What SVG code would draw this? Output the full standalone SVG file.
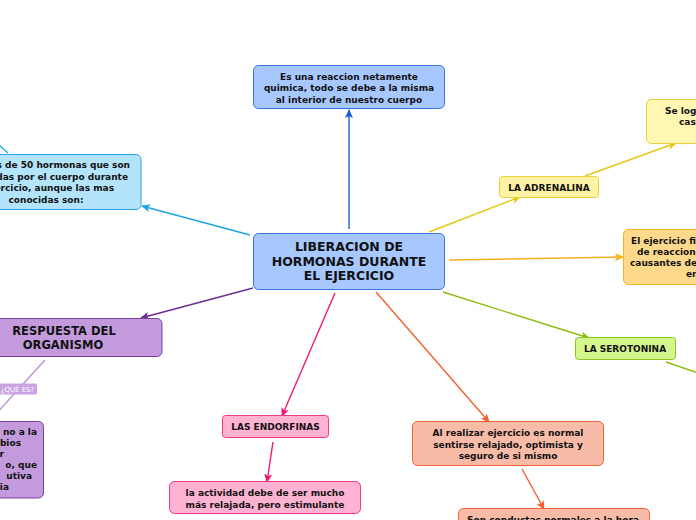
<svg xmlns="http://www.w3.org/2000/svg" width="696" height="520" viewBox="0 0 696 520">
<defs>
<style>
text{font-family:"DejaVu Sans","Verdana","Liberation Sans",sans-serif;font-weight:bold;fill:#111;font-size:9px;text-anchor:middle}
.big{font-size:12.5px}
.mid{font-size:11.5px}
.c{fill:none;stroke-width:1.4}
.blue{fill:#a7c7ff;stroke:#3676dc;stroke-width:1}
.cyan{fill:#b4e4fb;stroke:#2ba6e6;stroke-width:1}
.yel{fill:#fff4a6;stroke:#e6d03c;stroke-width:1}
.org{fill:#ffd98b;stroke:#f4b320;stroke-width:1}
.grn{fill:#d5f68d;stroke:#8cc424;stroke-width:1}
.pur{fill:#c39bdc;stroke:#7a3fa0;stroke-width:1}
.pnk{fill:#ffb2d2;stroke:#ee3a86;stroke-width:1}
.sal{fill:#f8bba8;stroke:#f26232;stroke-width:1}
</style>
<marker id="mBlue" markerUnits="userSpaceOnUse" markerWidth="10" markerHeight="10" refX="8" refY="5" orient="auto"><path d="M0,1 L9,5 L0,9 L2,5 z" fill="#1a5fd0"/></marker>
<marker id="mCyan" markerUnits="userSpaceOnUse" markerWidth="10" markerHeight="10" refX="8" refY="5" orient="auto"><path d="M0,1 L9,5 L0,9 L2,5 z" fill="#1fa3e3"/></marker>
<marker id="mYel" markerUnits="userSpaceOnUse" markerWidth="10" markerHeight="10" refX="8" refY="5" orient="auto"><path d="M0,1 L9,5 L0,9 L2,5 z" fill="#e6c812"/></marker>
<marker id="mOrg" markerUnits="userSpaceOnUse" markerWidth="10" markerHeight="10" refX="8" refY="5" orient="auto"><path d="M0,1 L9,5 L0,9 L2,5 z" fill="#f5b21a"/></marker>
<marker id="mGrn" markerUnits="userSpaceOnUse" markerWidth="10" markerHeight="10" refX="8" refY="5" orient="auto"><path d="M0,1 L9,5 L0,9 L2,5 z" fill="#8cbc12"/></marker>
<marker id="mPur" markerUnits="userSpaceOnUse" markerWidth="10" markerHeight="10" refX="8" refY="5" orient="auto"><path d="M0,1 L9,5 L0,9 L2,5 z" fill="#6b2d90"/></marker>
<marker id="mPnk" markerUnits="userSpaceOnUse" markerWidth="10" markerHeight="10" refX="8" refY="5" orient="auto"><path d="M0,1 L9,5 L0,9 L2,5 z" fill="#ee1a78"/></marker>
<marker id="mSal" markerUnits="userSpaceOnUse" markerWidth="10" markerHeight="10" refX="8" refY="5" orient="auto"><path d="M0,1 L9,5 L0,9 L2,5 z" fill="#f26130"/></marker>
</defs>
<rect width="696" height="520" fill="#ffffff"/>
<g id="connectors">
<line class="c" x1="349" y1="229" x2="349" y2="110" stroke="#1a5fd0" marker-end="url(#mBlue)"/>
<line class="c" x1="250" y1="235" x2="142" y2="206" stroke="#1fa3e3" marker-end="url(#mCyan)"/>
<line class="c" x1="8" y1="153" x2="-20" y2="128" stroke="#1fa3e3"/>
<line class="c" x1="429" y1="232" x2="520" y2="197" stroke="#e6c812" marker-end="url(#mYel)"/>
<line class="c" x1="585" y1="176" x2="676" y2="143" stroke="#e6c812" marker-end="url(#mYel)"/>
<line class="c" x1="449" y1="260" x2="623" y2="257" stroke="#f5b21a" marker-end="url(#mOrg)"/>
<line class="c" x1="443" y1="292" x2="589" y2="338" stroke="#8cbc12" marker-end="url(#mGrn)"/>
<line class="c" x1="666" y1="362" x2="710" y2="377" stroke="#8cbc12"/>
<line class="c" x1="253" y1="288" x2="141" y2="318" stroke="#6b2d90" marker-end="url(#mPur)"/>
<line class="c" x1="45" y1="360" x2="-5" y2="415" stroke="#b890dc"/>
<line class="c" x1="335" y1="293" x2="282" y2="416" stroke="#ee1a78" marker-end="url(#mPnk)"/>
<line class="c" x1="273" y1="442" x2="267" y2="482" stroke="#ee1a78" marker-end="url(#mPnk)"/>
<line class="c" x1="376" y1="292" x2="489" y2="422" stroke="#f26130" marker-end="url(#mSal)"/>
<line class="c" x1="522" y1="469" x2="544" y2="509" stroke="#f26130" marker-end="url(#mSal)"/>
</g>
<g id="central">
<rect class="blue" x="253.5" y="233.5" width="191" height="56" rx="5"/>
<text class="big" x="349" y="251">LIBERACION DE</text>
<text class="big" x="349" y="265.5">HORMONAS DURANTE</text>
<text class="big" x="349" y="280">EL EJERCICIO</text>
</g>
<g id="reaccion">
<rect class="blue" x="253.5" y="65.5" width="191" height="43" rx="5"/>
<text x="349" y="79.5">Es una reaccion netamente</text>
<text x="349" y="91">quimica, todo se debe a la misma</text>
<text x="349" y="102.5">al interior de nuestro cuerpo</text>
</g>
<g id="hormonas">
<rect class="cyan" x="-30" y="154.5" width="171" height="55" rx="5"/>
<text x="130" y="168" style="text-anchor:end">s de 50 hormonas que son</text>
<text x="128" y="179.5" style="text-anchor:end">das por el cuerpo durante</text>
<text x="114" y="191" style="text-anchor:end">ercicio, aunque las mas</text>
<text x="46" y="202.5">conocidas son:</text>
</g>
<g id="adrenalina">
<rect class="yel" x="499.5" y="176.5" width="99" height="21" rx="3"/>
<text x="549" y="190.5">LA ADRENALINA</text>
</g>
<g id="adrenalina-nota">
<rect class="yel" x="646.5" y="99.5" width="80" height="44" rx="5" style="fill:#fff7b2"/>
<text x="665" y="113.5" style="text-anchor:start">Se log</text>
<text x="679" y="124.5" style="text-anchor:start">cas</text>
</g>
<g id="ejercicio-fisico">
<rect class="org" x="623.5" y="229.5" width="90" height="55" rx="5"/>
<text x="631" y="244" style="text-anchor:start">El ejercicio fi</text>
<text x="637" y="255" style="text-anchor:start">de reaccione</text>
<text x="630" y="266" style="text-anchor:start">causantes de</text>
<text x="686" y="277" style="text-anchor:start">en</text>
</g>
<g id="serotonina">
<rect class="grn" x="575.5" y="337.5" width="100" height="22" rx="3"/>
<text x="625" y="352">LA SEROTONINA</text>
</g>
<g id="respuesta">
<rect class="pur" x="-34" y="318.5" width="196" height="38" rx="5"/>
<text class="mid" x="64" y="335">RESPUESTA DEL</text>
<text class="mid" x="63" y="349">ORGANISMO</text>
</g>
<g id="que-es">
<rect x="-6" y="383.5" width="43" height="11" rx="2" fill="#c9a3e3"/>
<text x="17.5" y="392" style="fill:#ffffff;font-weight:normal;font-size:7px">¿QUÉ ES?</text>
</g>
<g id="respuesta-def">
<rect class="pur" x="-30" y="421.5" width="73.5" height="76.5" rx="5"/>
<text x="37" y="435" style="text-anchor:end">no a la</text>
<text x="21" y="446" style="text-anchor:end">bios</text>
<text x="4" y="457" style="text-anchor:end">r</text>
<text x="37" y="468" style="text-anchor:end">o, que</text>
<text x="32" y="479" style="text-anchor:end">utiva</text>
<text x="9" y="490" style="text-anchor:end">ia</text>
</g>
<g id="endorfinas">
<rect class="pnk" x="222.5" y="415.5" width="106" height="22" rx="3"/>
<text x="275.5" y="429.5">LAS ENDORFINAS</text>
</g>
<g id="endorfinas-nota">
<rect class="pnk" x="169.5" y="481.5" width="191" height="32" rx="5"/>
<text x="265" y="496">la actividad debe de ser mucho</text>
<text x="265" y="507.5">más relajada, pero estimulante</text>
</g>
<g id="relajado">
<rect class="sal" x="412.5" y="421.5" width="191" height="44" rx="5"/>
<text x="508" y="436">Al realizar ejercicio es normal</text>
<text x="508" y="447.5">sentirse relajado, optimista y</text>
<text x="508" y="459">seguro de si mismo</text>
</g>
<g id="conductas">
<rect class="sal" x="458.5" y="508.5" width="191" height="40" rx="5"/>
<text x="553" y="523">Son conductas normales a la hora</text>
</g>
</svg>
